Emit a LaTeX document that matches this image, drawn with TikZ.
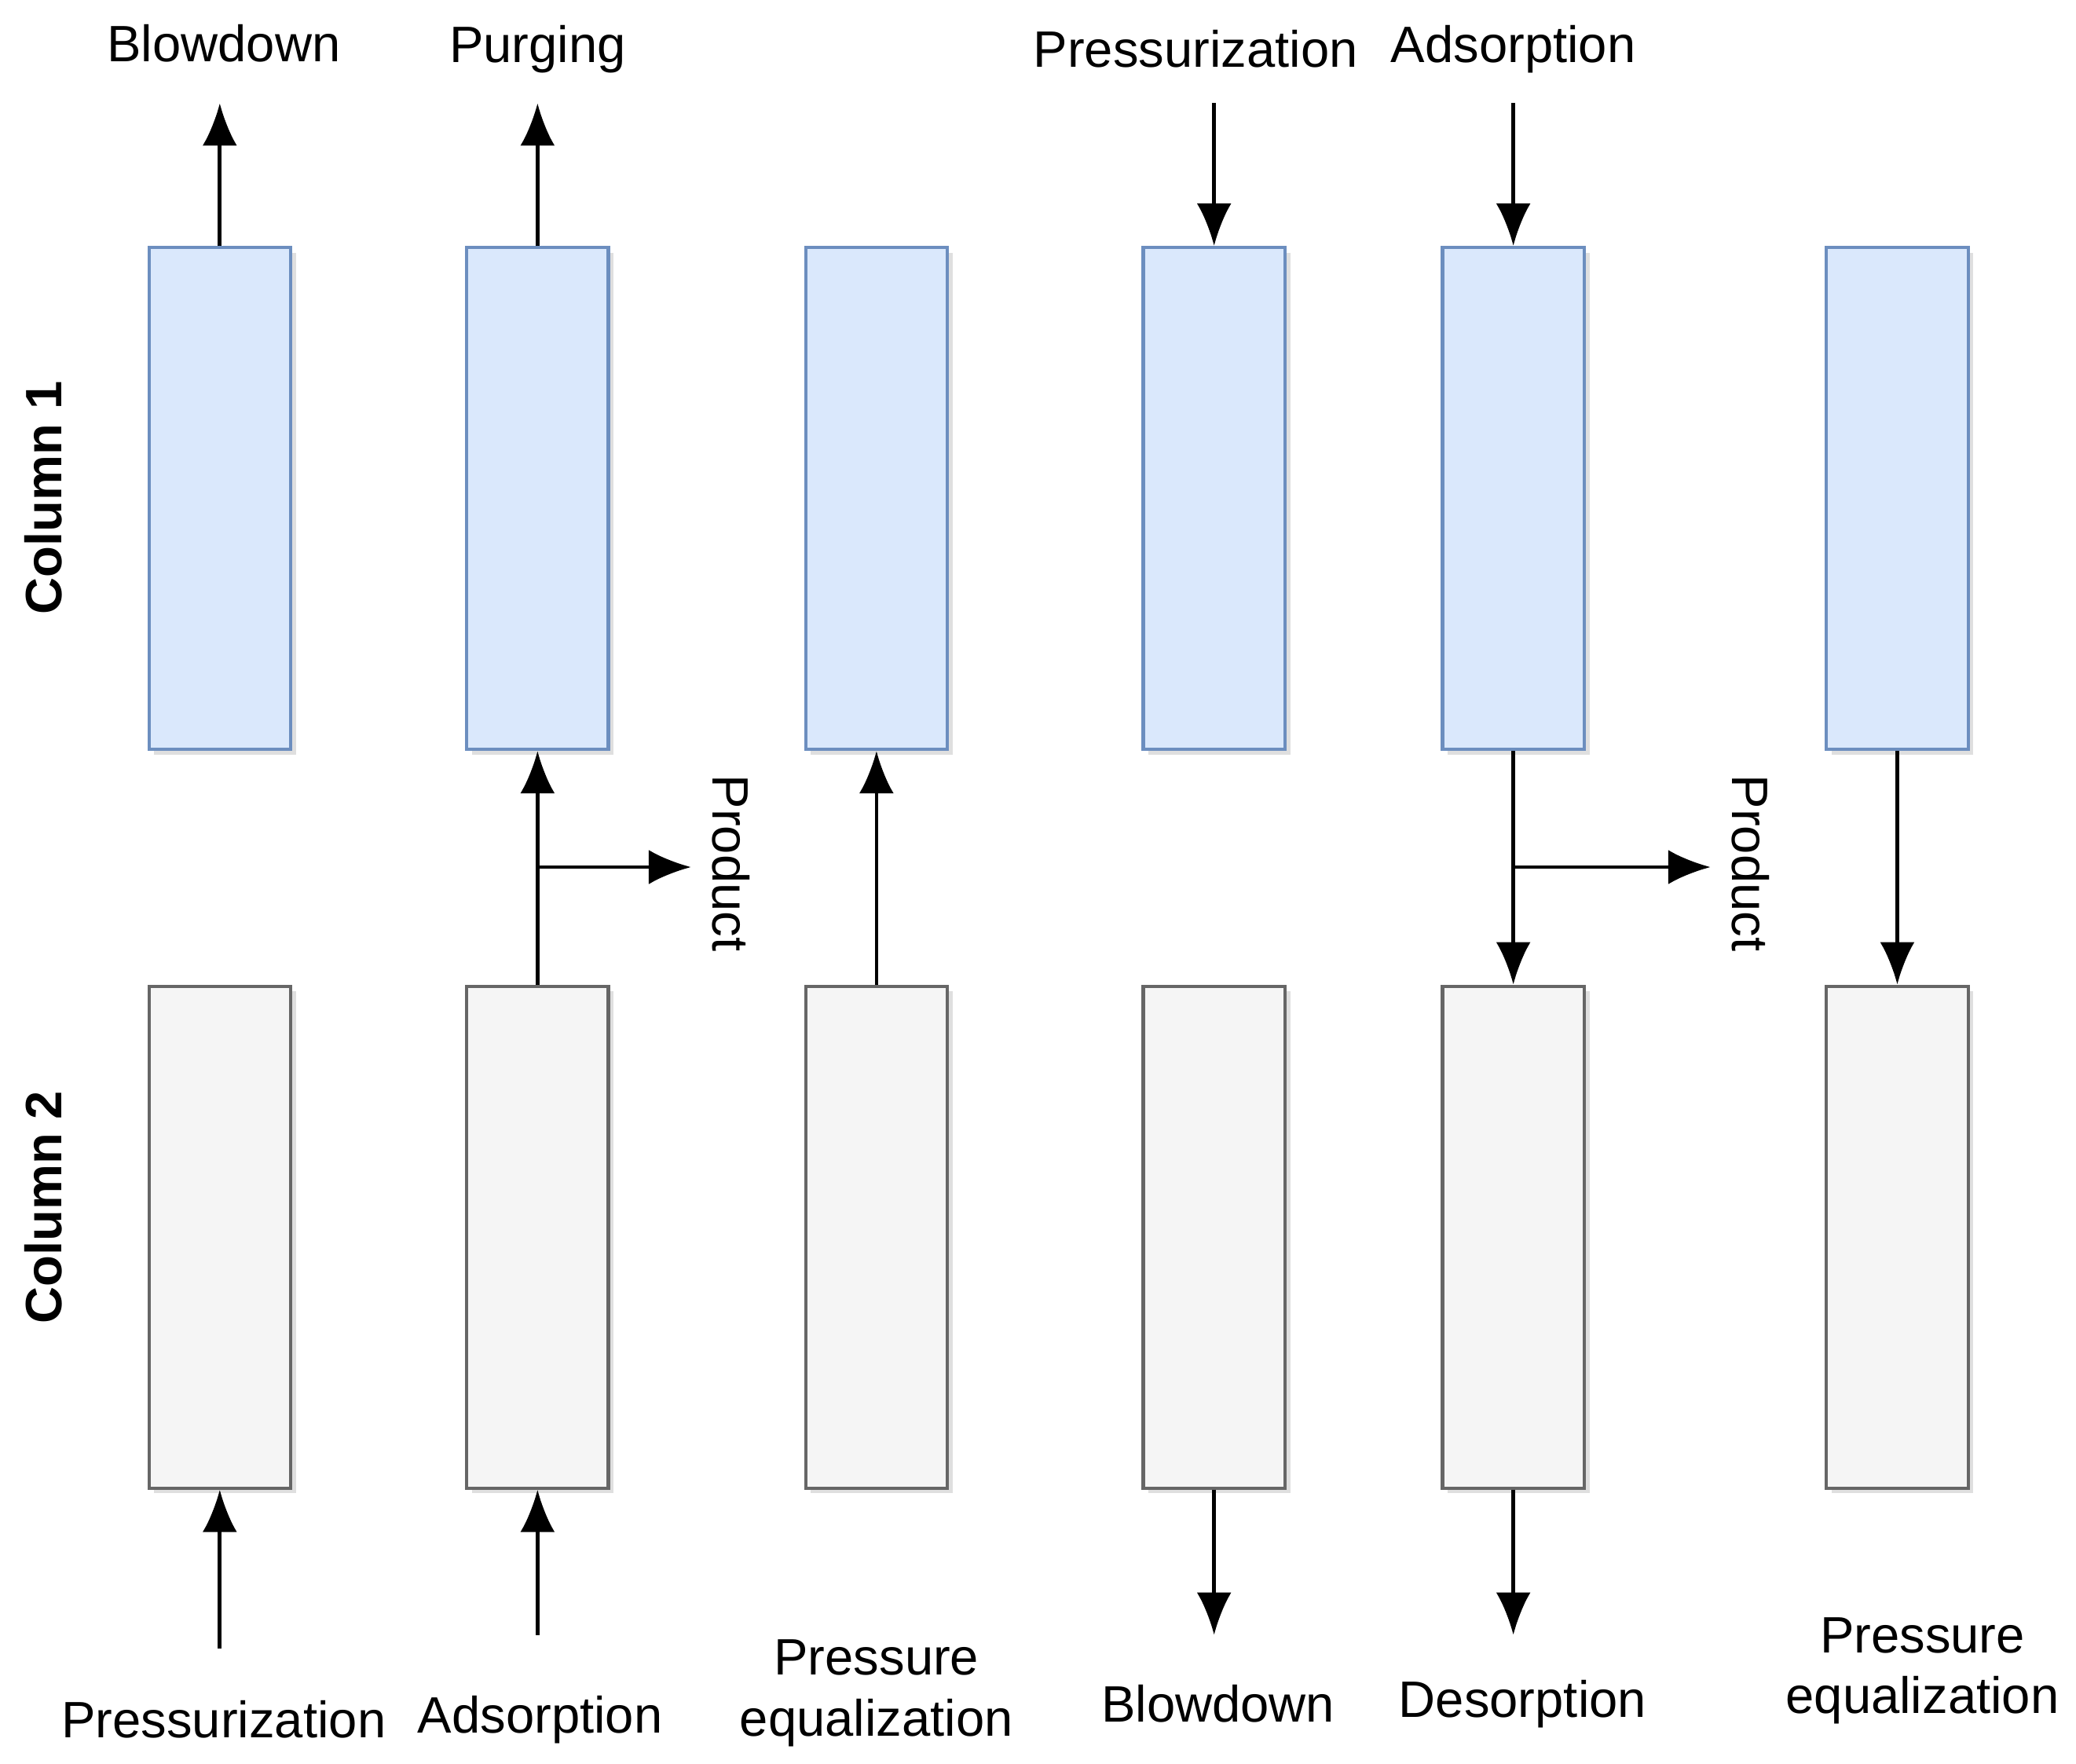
\documentclass[tikz,border=0pt]{standalone}
\usepackage{fontspec}
\setmainfont{Liberation Sans}
\usetikzlibrary{arrows.meta,shadows}
\tikzset{>={Latex[length=0.32cm,width=0.26cm]}}
\begin{document}
\begin{tikzpicture}[
    col/.style={draw,line width=0.7pt,minimum width=1.07cm,minimum height=3.79cm,
      inner sep=0pt,drop shadow={shadow xshift=0.04cm,shadow yshift=-0.04cm,opacity=0.25}},
    colA/.style={col,fill={rgb,255:red,218;green,232;blue,252},draw={rgb,255:red,108;green,142;blue,191}},
    colB/.style={col,fill={rgb,255:red,245;green,245;blue,245},draw={rgb,255:red,102;green,102;blue,102}},
    lab/.style={font=\fontsize{11}{13}\selectfont,align=center},
    flow/.style={->,line width=0.8pt}]
  \useasboundingbox (0,0) rectangle (15.68,13.32);

  % columns
  \foreach \i/\x in {1/1.66,2/4.06,3/6.62,4/9.17,5/11.43,6/14.33}{
    \node[colA] (t\i) at (\x,9.555) {};
    \node[colB] (b\i) at (\x,3.975) {};
  }
  \node[lab,font=\bfseries\fontsize{11}{13}\selectfont,rotate=90] (c1) at (0.33,9.56) {Column 1};
  \node[lab,font=\bfseries\fontsize{11}{13}\selectfont,rotate=90] (c2) at (0.33,4.20) {Column 2};

  % top labels
  \node[lab] (tl1) at (1.69,12.99) {Blowdown};
  \node[lab] (tl2) at (4.06,12.95) {Purging};
  \node[lab] (tl4) at (9.03,12.95) {Pressurization};
  \node[lab] (tl5) at (11.43,12.95) {Adsorption};
  \coordinate (ta1) at (1.66,12.54);
  \coordinate (ta2) at (4.06,12.54);
  \coordinate (ta4) at (9.17,12.54);
  \coordinate (ta5) at (11.43,12.54);
  \draw[flow] (t1.north) -- (ta1);
  \draw[flow] (t2.north) -- (ta2);
  \draw[flow] (ta4) -- (t4.north);
  \draw[flow] (ta5) -- (t5.north);

  % between columns
  \draw[flow] (b2.north) -- (t2.south);
  \draw[flow] (b3.north) -- (t3.south);
  \draw[flow] (t5.south) -- (b5.north);
  \draw[flow] (t6.south) -- (b6.north);
  \coordinate (p2) at (4.06,6.77);
  \coordinate (p5) at (11.43,6.77);
  \coordinate (pe2) at (5.22,6.77);
  \coordinate (pe5) at (12.92,6.77);
  \draw[flow] (p2) -- (pe2);
  \draw[flow] (p5) -- (pe5);
  \node[lab,rotate=-90] (pr2) at (5.52,6.80) {Product};
  \node[lab,rotate=-90] (pr5) at (13.22,6.80) {Product};

  % bottom labels
  \coordinate (ba1) at (1.66,0.87);
  \coordinate (ba2) at (4.06,0.97);
  \coordinate (ba4) at (9.17,0.97);
  \coordinate (ba5) at (11.43,0.97);
  \draw[flow] (ba1) -- (b1.south);
  \draw[flow] (ba2) -- (b2.south);
  \draw[flow] (b4.south) -- (ba4);
  \draw[flow] (b5.south) -- (ba5);
  \node[lab] (bl1) at (1.69,0.33) {Pressurization};
  \node[lab] (bl2) at (4.08,0.33) {Adsorption};
  \node[lab] (bl3) at (6.62,0.53) {Pressure\\equalization};
  \node[lab] (bl4) at (9.20,0.45) {Blowdown};
  \node[lab] (bl5) at (11.50,0.45) {Desorption};
  \node[lab] (bl6) at (14.52,0.70) {Pressure\\equalization};
\end{tikzpicture}
\end{document}
